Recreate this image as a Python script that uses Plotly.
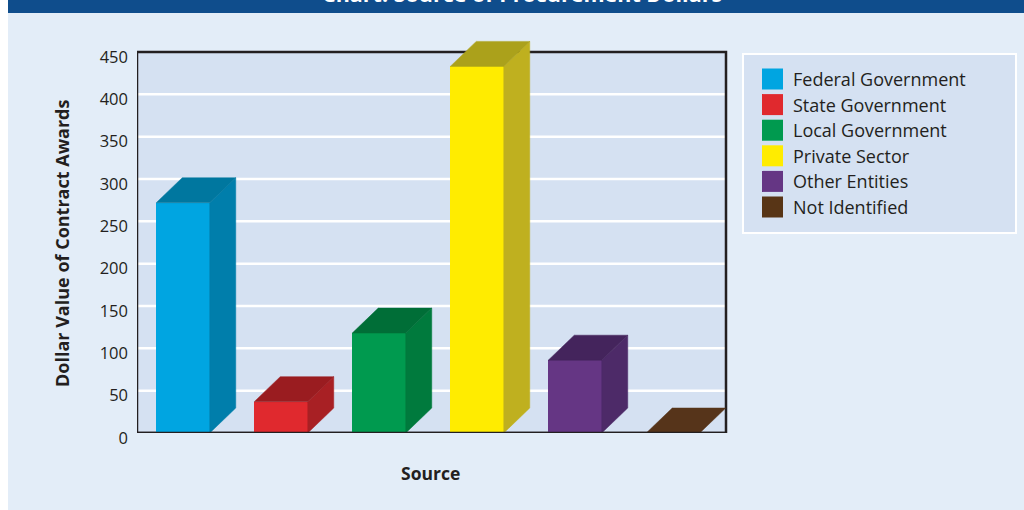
import plotly.graph_objects as go

# ---------------- data ----------------
categories = ["Federal Government", "State Government", "Local Government",
              "Private Sector", "Other Entities", "Not Identified"]
values = [272, 37, 118, 433, 86, 0]
front_colors = ["#00a5e1", "#e0292e", "#009a4f", "#ffec00", "#653684", "#583516"]
side_colors = ["#007eab", "#a82024", "#007a3d", "#bfb01f", "#4d2a68", "#583516"]
top_colors = ["#00779f", "#9a1c20", "#006e37", "#aba11b", "#44245c", "#56341a"]
y_ticks = [0, 50, 100, 150, 200, 250, 300, 350, 400, 450]
y_title = "Dollar Value of Contract Awards"
x_title = "Source"
chart_title = "Chart: Source of Procurement Dollars"

# ---------------- layout geometry (pixels) ----------------
W, H = 1024, 510
PL, PR = 137, 760          # plot area (x)
PT, PB = 27, 433           # plot area (y)
BORDER_R = 726             # visible frame right edge
BORDER_T = 52              # pixel of y=450
BAR0, STEP = 183, 98       # centre of first bar, px per category
ppu_y = (PB - BORDER_T) / 450.0
YMAX = (PB - PT) / ppu_y
x_range = [(PL - BAR0) / STEP, (PR - BAR0) / STEP]
HW = 0.546 / 2
DX = 26 / STEP
DY = 25 / ppu_y
FONT = "Open Sans"
TXT = "#231f20"


def px_x(p):
    return (p - PL) / (PR - PL)


def px_y(p):
    return (PB - p) / (PB - PT)


def dx_(p):
    return (p - BAR0) / STEP


positions = list(range(len(categories)))

fig = go.Figure()

# front faces
fig.add_trace(go.Bar(x=positions, y=values, width=2 * HW,
                     marker=dict(color=front_colors, line=dict(width=0)),
                     hoverinfo="skip", showlegend=False))

# side and top faces
for i, v in enumerate(values):
    xl, xr = positions[i] - HW, positions[i] + HW
    if v > 0:
        fig.add_trace(go.Scatter(x=[xr, xr + DX, xr + DX, xr, xr],
                                 y=[0, DY, v + DY, v, 0],
                                 mode="lines", fill="toself",
                                 fillcolor=side_colors[i],
                                 line=dict(color=side_colors[i], width=0.5),
                                 hoverinfo="skip", showlegend=False))
    fig.add_trace(go.Scatter(x=[xl, xr, xr + DX, xl + DX, xl],
                             y=[v, v, v + DY, v + DY, v],
                             mode="lines", fill="toself",
                             fillcolor=top_colors[i],
                             line=dict(color=top_colors[i], width=0.5),
                             hoverinfo="skip", showlegend=False))

shapes = []
# panel + title bar
shapes.append(dict(type="rect", xref="paper", yref="paper",
                   x0=px_x(8), x1=px_x(W), y0=px_y(H), y1=px_y(13),
                   fillcolor="#e3edf8", line=dict(width=0), layer="below"))
shapes.append(dict(type="rect", xref="paper", yref="paper",
                   x0=px_x(8), x1=px_x(W), y0=px_y(13), y1=px_y(0),
                   fillcolor="#0f4d8c", line=dict(width=0), layer="below"))
# plot background
xb0, xb1 = dx_(PL), dx_(BORDER_R)
shapes.append(dict(type="rect", xref="x", yref="y", x0=xb0, x1=xb1,
                   y0=0, y1=450, fillcolor="#d5e1f2", line=dict(width=0),
                   layer="below"))
# gridlines
for t in y_ticks[1:-1]:
    shapes.append(dict(type="line", xref="x", yref="y", x0=xb0, x1=xb1,
                       y0=t, y1=t, line=dict(color="white", width=2.5),
                       layer="below"))
# frame
shapes.append(dict(type="rect", xref="x", yref="y", x0=xb0, x1=xb1,
                   y0=0, y1=450, fillcolor="rgba(0,0,0,0)",
                   line=dict(color=TXT, width=2.5), layer="below"))
shapes.append(dict(type="line", xref="x", yref="y", x0=xb0, x1=xb1,
                   y0=0, y1=0, line=dict(color=TXT, width=2.5), layer="above"))

# legend box
shapes.append(dict(type="rect", xref="paper", yref="paper",
                   x0=px_x(743), x1=px_x(1016), y0=px_y(233), y1=px_y(54),
                   fillcolor="#d5e1f2", line=dict(color="white", width=2),
                   layer="below"))

annotations = []
row0, rstep = 79, 25.6
for i, name in enumerate(categories):
    yc = row0 + i * rstep
    shapes.append(dict(type="rect", xref="paper", yref="paper",
                       x0=px_x(762), x1=px_x(783),
                       y0=px_y(yc + 10.5), y1=px_y(yc - 10.5),
                       fillcolor=front_colors[i], line=dict(width=0),
                       layer="above"))
    annotations.append(dict(xref="paper", yref="paper", x=px_x(791),
                            y=px_y(yc), xanchor="left", yanchor="middle",
                            text=name, showarrow=False,
                            font=dict(family=FONT, size=18, color=TXT)))

annotations.append(dict(xref="paper", yref="paper", x=px_x(62), y=px_y(244),
                        text="<b>" + y_title + "</b>", textangle=-90,
                        showarrow=False, xanchor="center", yanchor="middle",
                        font=dict(family=FONT, size=18, color=TXT)))
annotations.append(dict(xref="paper", yref="paper", x=px_x(430), y=px_y(473),
                        text="<b>" + x_title + "</b>", showarrow=False,
                        xanchor="center", yanchor="middle",
                        font=dict(family=FONT, size=17.5, color=TXT)))
annotations.append(dict(xref="paper", yref="paper", x=px_x(522), y=px_y(10.5),
                        text="<b>" + chart_title + "</b>", showarrow=False,
                        xanchor="center", yanchor="bottom",
                        font=dict(family=FONT, size=21.5, color="white")))

fig.update_layout(
    width=W, height=H,
    margin=dict(l=PL, r=W - PR, t=PT, b=H - PB, autoexpand=False),
    paper_bgcolor="white", plot_bgcolor="rgba(0,0,0,0)",
    shapes=shapes, annotations=annotations,
    showlegend=False, bargap=0,
    xaxis=dict(range=x_range, visible=False, fixedrange=True),
    yaxis=dict(range=[0, YMAX], tickvals=y_ticks, showgrid=False,
               zeroline=False, showline=False, ticks="",
               ticklabelstandoff=8, ticklabelshift=5,
               tickfont=dict(family=FONT, size=16.5, color=TXT),
               fixedrange=True),
)

fig.write_html("out.html",
               config={"displayModeBar": False},
               post_script="document.body.style.margin='0';"
                           "document.body.style.overflow='hidden';")
